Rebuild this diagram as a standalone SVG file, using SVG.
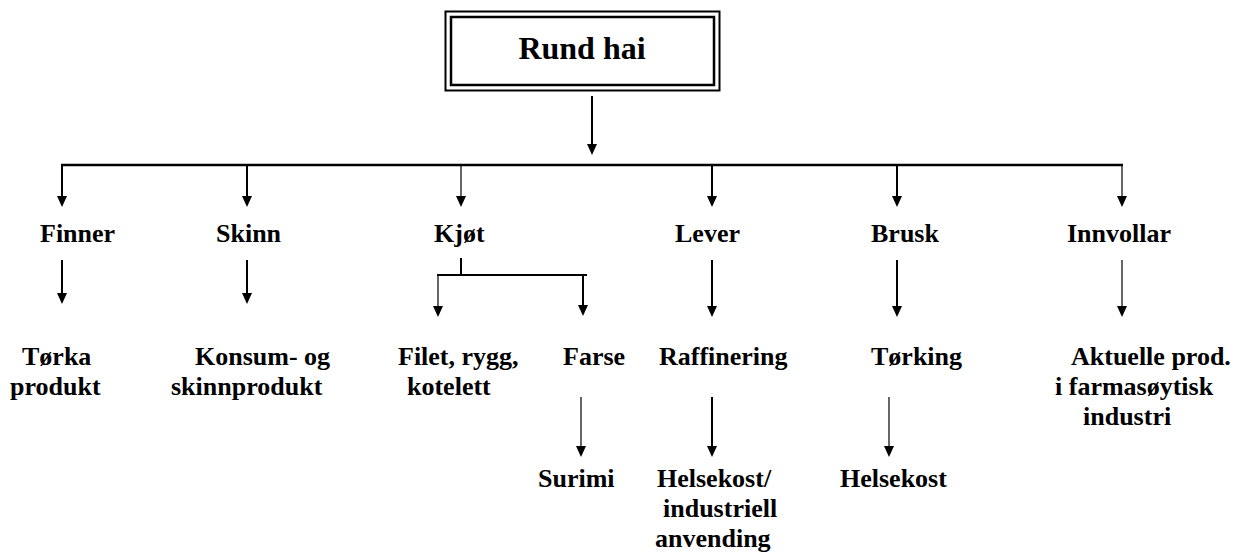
<svg xmlns="http://www.w3.org/2000/svg" width="1239" height="554" viewBox="0 0 1239 554">
<style>
text{font-family:"Liberation Serif","Times New Roman",serif;font-weight:bold;fill:#000}
.lbl{font-size:26px}
.title{font-size:32px}
.thick{stroke:#000;stroke-width:2;fill:none}
.thin{stroke:#000;stroke-width:1.2;fill:none}
.bar{stroke:#000;stroke-width:2.5;fill:none}
.ar{marker-end:url(#ah)}
</style>
<defs>
<marker id="ah" markerUnits="userSpaceOnUse" viewBox="0 0 11 10" markerWidth="11" markerHeight="10" refX="5" refY="5" orient="auto"><path d="M0,0 L11,5 L0,10 z" fill="#000"/></marker>
</defs>
<rect width="1239" height="554" fill="#fff"/>
<g id="connectors">
<line class="thick ar" x1="592" y1="96" x2="592" y2="149"/>
<line class="bar" x1="61" y1="165" x2="1123" y2="165"/>
<line class="thick ar" x1="62" y1="165" x2="62" y2="201"/>
<line class="thick ar" x1="247" y1="165" x2="247" y2="201"/>
<line class="thin ar" x1="461" y1="165" x2="461" y2="201"/>
<line class="thick ar" x1="712" y1="165" x2="712" y2="201"/>
<line class="thick ar" x1="897" y1="165" x2="897" y2="201"/>
<line class="thin ar" x1="1122" y1="165" x2="1122" y2="201"/>
<line class="thick ar" x1="62" y1="260" x2="62" y2="298"/>
<line class="thick ar" x1="247" y1="260" x2="247" y2="298"/>
<line class="thick" x1="461" y1="258" x2="461" y2="275"/>
<line class="thick" x1="437" y1="275" x2="587" y2="275"/>
<line class="thin ar" x1="438" y1="275" x2="438" y2="311"/>
<line class="thick ar" x1="583" y1="275" x2="583" y2="310"/>
<line class="thick ar" x1="712" y1="260" x2="712" y2="311"/>
<line class="thick ar" x1="897" y1="260" x2="897" y2="311"/>
<line class="thin ar" x1="1122" y1="260" x2="1122" y2="311"/>
<line class="thin ar" x1="581" y1="397" x2="581" y2="451"/>
<line class="thick ar" x1="712" y1="397" x2="712" y2="451"/>
<line class="thin ar" x1="889" y1="397" x2="889" y2="451"/>
</g>
<g id="rund-hai">
<rect x="445.5" y="11.5" width="274" height="79" fill="none" stroke="#000" stroke-width="2"/>
<rect x="451" y="17" width="263" height="68" fill="none" stroke="#000" stroke-width="2.5"/>
<text class="title" x="582" y="59" text-anchor="middle">Rund hai</text>
</g>
<g id="finner"><text class="lbl" x="40" y="242">Finner</text></g>
<g id="skinn"><text class="lbl" x="216" y="242">Skinn</text></g>
<g id="kjot"><text class="lbl" x="434" y="242">Kjøt</text></g>
<g id="lever"><text class="lbl" x="675" y="242">Lever</text></g>
<g id="brusk"><text class="lbl" x="871" y="242">Brusk</text></g>
<g id="innvollar"><text class="lbl" x="1067" y="242">Innvollar</text></g>
<g id="torka-produkt"><text class="lbl" x="22" y="365">Tørka</text><text class="lbl" x="10" y="395">produkt</text></g>
<g id="konsum"><text class="lbl" x="195" y="365">Konsum- og</text><text class="lbl" x="171" y="395">skinnprodukt</text></g>
<g id="filet"><text class="lbl" x="398" y="365">Filet, rygg,</text><text class="lbl" x="407" y="395">kotelett</text></g>
<g id="farse"><text class="lbl" x="563" y="365">Farse</text></g>
<g id="raffinering"><text class="lbl" x="659" y="365">Raffinering</text></g>
<g id="torking"><text class="lbl" x="871" y="365">Tørking</text></g>
<g id="aktuelle"><text class="lbl" x="1071" y="365">Aktuelle prod.</text><text class="lbl" x="1055" y="395">i farmasøytisk</text><text class="lbl" x="1083" y="425">industri</text></g>
<g id="surimi"><text class="lbl" x="538" y="487">Surimi</text></g>
<g id="helsekost-ind"><text class="lbl" x="657" y="487">Helsekost/</text><text class="lbl" x="663" y="517">industriell</text><text class="lbl" x="655" y="547">anvending</text></g>
<g id="helsekost"><text class="lbl" x="840" y="487">Helsekost</text></g>
</svg>
